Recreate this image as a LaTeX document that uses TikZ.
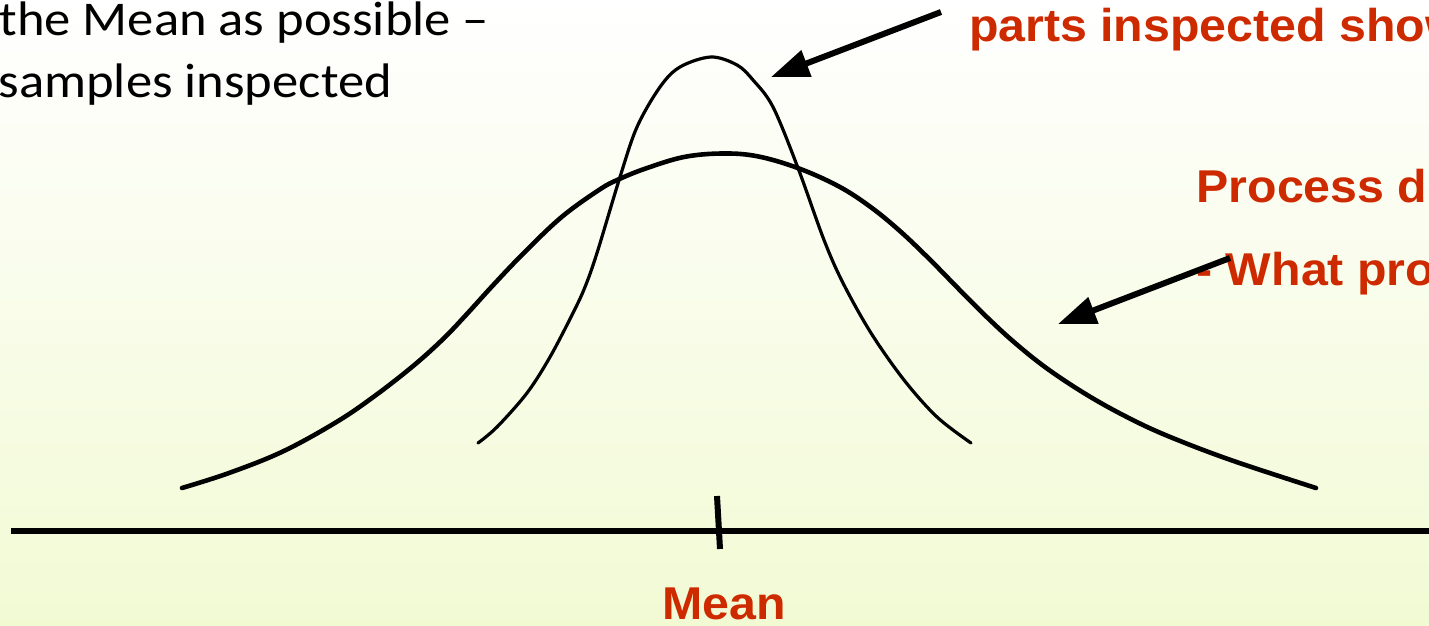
\documentclass[tikz,border=0pt]{standalone}
\usepackage{graphicx}
\usepackage{fontspec}
\setmainfont{Carlito}
\newfontfamily\arialfont{Liberation Sans}
\usetikzlibrary{arrows.meta}
\definecolor{redcol}{RGB}{206,42,0}
\definecolor{bggreen}{RGB}{242,250,212}
\newcommand\widerblack[1]{\scalebox{1.085}[1]{#1}}
\newcommand\widerred[1]{\scalebox{1.05}[1]{#1}}
\begin{document}
\begin{tikzpicture}[x=1pt,y=-1pt,
  blacktxt/.style={anchor=base west, inner sep=0pt, outer sep=0pt, font=\fontsize{48.5}{58}\selectfont},
  redtxt/.style={anchor=base west, inner sep=0pt, outer sep=0pt, text=redcol, font=\arialfont\bfseries\fontsize{46}{55}\selectfont},
  arrowline/.style={line width=6pt, -{Triangle[length=38pt,width=27pt]}},
  widecurve/.style={line width=4.6pt, line cap=round, line join=round},
  narrowcurve/.style={line width=3.2pt, line cap=round, line join=round},
  axisline/.style={line width=6pt}]
\useasboundingbox (0,0) rectangle (1429,626);
\clip (0,0) rectangle (1429,626);
\shade[top color=white, bottom color=bggreen] (0,0) rectangle (1429,626);

% texts
\node[blacktxt] (t1) at (-0.5,35.5) {\widerblack{the Mean as possible –}};
\node[blacktxt] (t2) at (-1.5,97) {\widerblack{samples inspected}};
\node[redtxt] (r1) at (969,42) {\widerred{parts inspected show}};
\node[redtxt] (r2) at (1196.5,202) {\widerred{Process d}};
\node[redtxt] (r3) at (1196.5,285) {\widerred{- What pro}};
\node[redtxt, anchor=base] (mean) at (724,619) {\widerred{Mean}};

% axis and tick
\coordinate (axL) at (11,531);
\coordinate (axR) at (1440,531);
\draw[axisline] (axL) -- (axR);
\coordinate (tk1) at (717,496);
\coordinate (tk2) at (720,549);
\draw[axisline] (tk1) -- (tk2);

% wide curve
\draw[widecurve] plot[smooth, tension=0.6] coordinates {
 (182,488) (229,473) (283,451.4) (336,422.3) (374,396.5) (413,366.1) (443,339.1)
 (466,315) (493,285.3) (524,252.8) (562,216.7) (600,189.3) (619,179.2) (646,168.4)
 (684,157) (722,153.5) (757,156.2) (798,168.1) (839,186.5) (871,207.3) (900,231.1)
 (929,258.7) (961,291.3) (986,316.3) (1014,342.1) (1047,368.5) (1088,395.5)
 (1129,418.1) (1169,436.5) (1231,460.1) (1316,488)};

% narrow curve
\draw[narrowcurve] plot[smooth, tension=0.55] coordinates {
 (478,443) (497,427) (527,393) (550,357) (573,313) (585,287) (597,253) (620,177)
 (637,127) (660,87) (680,67) (711,57) (737,65) (753,80) (773,107) (798,168)
 (824,240) (843,283) (871,333) (904,380) (937,417) (971,443)};

% arrows
\coordinate (a1s) at (941,12);
\coordinate (a1t) at (771,77);
\draw[arrowline] (a1s) -- (a1t);
\coordinate (a2s) at (1230,258);
\coordinate (a2t) at (1058,324);
\draw[arrowline] (a2s) -- (a2t);
\end{tikzpicture}
\end{document}
